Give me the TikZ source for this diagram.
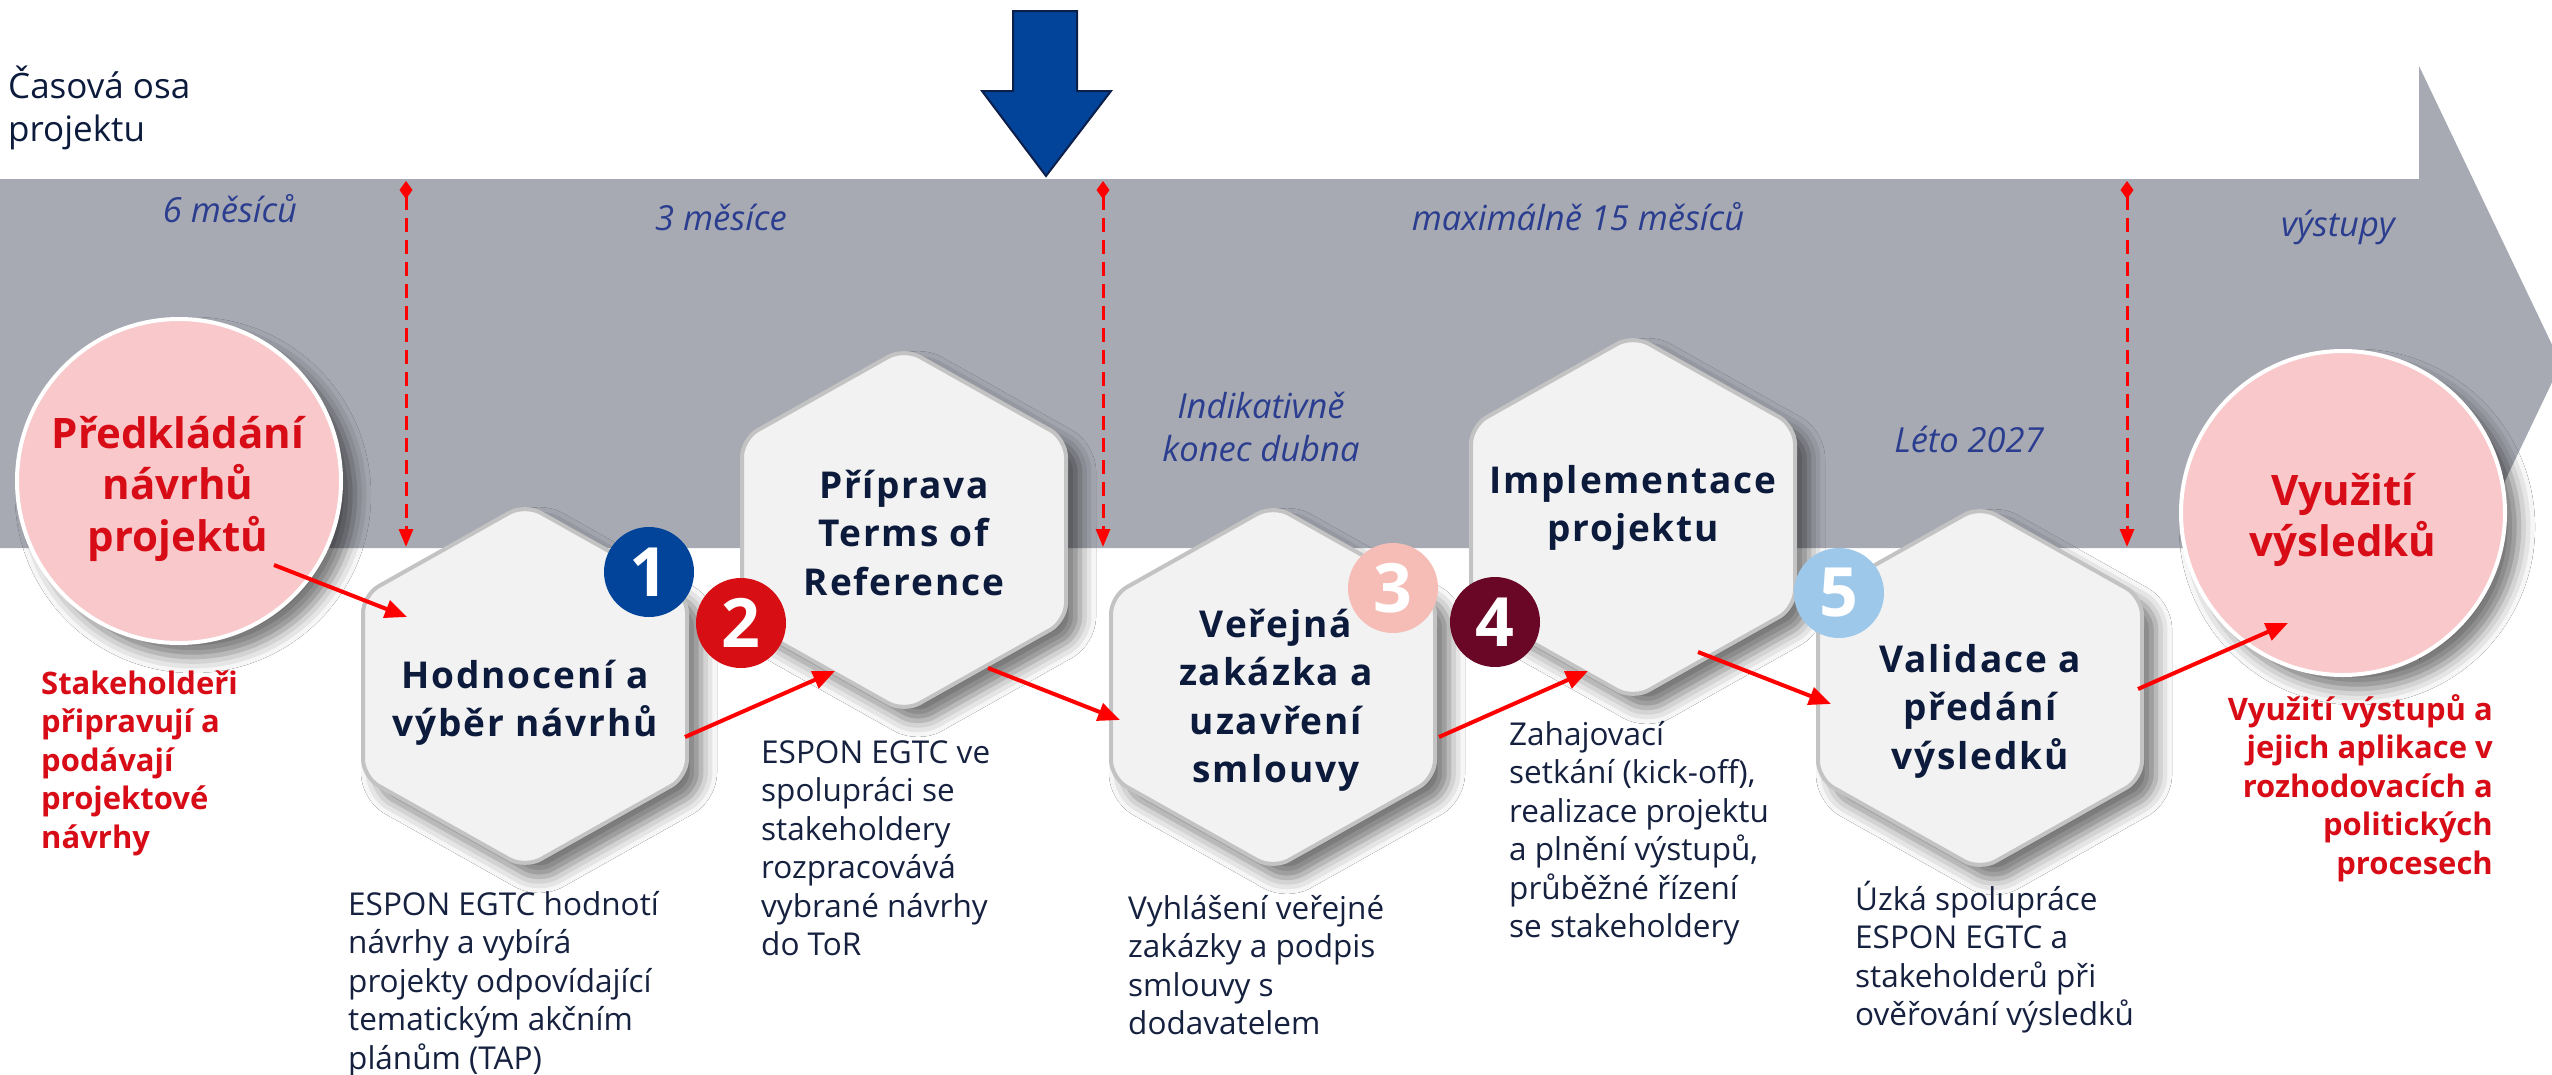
\documentclass[tikz,border=0pt]{standalone}
\usepackage{fontspec}
\setmainfont{Open Sans}
\usetikzlibrary{arrows.meta,shadows.blur}
\definecolor{bandgray}{HTML}{A7AAB3}
\definecolor{arrowblue}{HTML}{02449A}
\definecolor{arrowdark}{HTML}{0B1F4A}
\definecolor{hexfill}{HTML}{F2F2F2}
\definecolor{hexborder}{HTML}{C3C3C3}
\definecolor{navytxt}{HTML}{0C1A3C}
\definecolor{desctxt}{HTML}{16213F}
\definecolor{lblblue}{HTML}{2B3D8F}
\definecolor{redtxt}{HTML}{D70C16}
\definecolor{pinkfill}{HTML}{F9C8CA}
\definecolor{bOne}{HTML}{02449A}
\definecolor{bTwo}{HTML}{D70F15}
\definecolor{bThree}{HTML}{F5BDB6}
\definecolor{bFour}{HTML}{6A0626}
\definecolor{bFive}{HTML}{9DC8EA}
\newcommand\fsz[2]{\fontsize{#1}{#2}\selectfont}
\tikzset{
  hexa/.pic={
    \path[fill=hexfill, draw=hexborder, line width=4, rounded corners=18,
      blur shadow={shadow xshift=14pt, shadow yshift=-14pt, shadow blur radius=16pt, shadow opacity=55}]
      (0,-182) -- (162,-91) -- (162,91) -- (0,182) -- (-162,91) -- (-162,-91) -- cycle;
  },
  bigcirc/.style={circle, minimum size=324, inner sep=0, fill=pinkfill, draw=white, line width=4,
      blur shadow={shadow xshift=14pt, shadow yshift=-14pt, shadow blur radius=16pt, shadow opacity=55}},
  hextext/.style={font=\bfseries\addfontfeature{LetterSpace=5}\fsz{37}{48.5}, text=navytxt, align=center, inner sep=0, anchor=base},
  circtext/.style={font=\bfseries\fsz{42}{51.5}, text=redtxt, align=center, inner sep=0, anchor=base},
  desc/.style={font=\fsz{31.5}{38.5}, text=desctxt, align=left, inner sep=0, anchor=base west},
  redside/.style={font=\bfseries\fsz{31}{38.5}, text=redtxt, inner sep=0},
  bandlbl/.style={font=\itshape\fsz{34.5}{43}, text=lblblue, align=center, inner sep=0, anchor=base},
  badge/.style={circle, minimum size=90, inner sep=0, text=white, font=\bfseries\fsz{68}{68}},
  redarrow/.style={draw=red, line width=4, -{Triangle[length=22,width=18]}},
  dashline/.style={draw=red, line width=3, dash pattern=on 14pt off 8pt,
      {Diamond[length=18,width=13]}-{Triangle[length=18,width=14]}}
}
\begin{document}
\begin{tikzpicture}[x=1pt,y=-1pt]
\useasboundingbox (0,0) rectangle (2552,1074);
\clip (0,0) rectangle (2552,1074);
\fill[white] (0,0) rectangle (2552,1074);
% timeline band with arrow head
\fill[bandgray] (0,179) -- (2419,179) -- (2419,66) -- (2561,363.5) -- (2419,661) -- (2419,548) -- (0,548) -- cycle;
% big blue arrow
\draw[fill=arrowblue, draw=arrowdark, line width=2, line join=miter]
  (1013,11) -- (1077,11) -- (1077,91) -- (1111,91) -- (1046,176) -- (982,91) -- (1013,91) -- cycle;
% title
\node[font=\fsz{35}{43.5}, text=navytxt, align=left, inner sep=0, anchor=base west] (title) at (8,141.5) {Časová osa\\projektu};
% band labels
\node[bandlbl] (l1) at (230,222) {6 měsíců};
\node[bandlbl] (l2) at (721,230) {3 měsíce};
\node[bandlbl] (l3) at (1578,230) {maximálně 15 měsíců};
\node[bandlbl] (l4) at (2338,236) {výstupy};
\node[bandlbl] (l5) at (1261,461) {Indikativně\\konec dubna};
\node[bandlbl] (l6) at (1969,452) {Léto 2027};
% dashed markers
\coordinate (m1t) at (406,181); \coordinate (m1b) at (406,547);
\coordinate (m2t) at (1103,181); \coordinate (m2b) at (1103,547);
\coordinate (m3t) at (2127,181); \coordinate (m3b) at (2127,547);
\draw[dashline] (m1t) -- (m1b);
\draw[dashline] (m2t) -- (m2b);
\draw[dashline] (m3t) -- (m3b);
% circles
\node[bigcirc] (c1) at (179,481) {};
\node[bigcirc] (c2) at (2343,513) {};
\node[circtext] (c1t) at (178,551) {Předkládání\\návrhů\\projektů};
\node[circtext] (c2t) at (2343,556.5) {Využití\\výsledků};
% hexagons
\pic at (525,686) {hexa};
\pic at (904,530) {hexa};
\pic at (1273,687) {hexa};
\pic at (1633,517) {hexa};
\pic at (1980,688) {hexa};
\node[hextext] (h1) at (525,736.5) {Hodnocení a\\výběr návrhů};
\node[hextext] (h2) at (904,595) {Příprava\\Terms of\\Reference};
\node[hextext] (h3) at (1276,782.5) {Veřejná\\zakázka a\\uzavření\\smlouvy};
\node[hextext] (h4) at (1633,541.5) {Implementace\\projektu};
\node[hextext] (h5) at (1980,769) {Validace a\\předání\\výsledků};
% badges
\node[badge, fill=bOne] (b1) at (649,572) {1};
\node[badge, fill=bTwo] (b2) at (741,623) {2};
\node[badge, fill=bThree] (b3) at (1393,588) {3};
\node[badge, fill=bFour] (b4) at (1495,622) {4};
\node[badge, fill=bFive] (b5) at (1839,593) {5};
% side texts
\node[redside, align=left, anchor=base west] (sl) at (41,848) {Stakeholdeři\\připravují a\\podávají\\projektové\\návrhy};
\node[redside, align=right, anchor=base east] (sr) at (2493,874) {Využití výstupů a\\jejich aplikace v\\rozhodovacích a\\politických\\procesech};
% descriptions
\node[desc] (d1) at (348,1069) {ESPON EGTC hodnotí\\návrhy a vybírá\\projekty odpovídající\\tematickým akčním\\plánům (TAP)};
\node[desc] (d2) at (761,955.5) {ESPON EGTC ve\\spolupráci se\\stakeholdery\\rozpracovává\\vybrané návrhy\\do ToR};
\node[desc] (d3) at (1128,1034.5) {Vyhlášení veřejné\\zakázky a podpis\\smlouvy s\\dodavatelem};
\node[desc] (d4) at (1509,937.5) {Zahajovací\\setkání (kick-off),\\realizace projektu\\a plnění výstupů,\\průběžné řízení\\se stakeholdery};
\node[desc] (d5) at (1855,1025.5) {Úzká spolupráce\\ESPON EGTC a\\stakeholderů při\\ověřování výsledků};
% red connectors
\coordinate (a1s) at (274,565); \coordinate (a1e) at (407,617);
\coordinate (a2s) at (685,737); \coordinate (a2e) at (835,671);
\coordinate (a3s) at (988,668); \coordinate (a3e) at (1120,720);
\coordinate (a4s) at (1439,737); \coordinate (a4e) at (1588,671);
\coordinate (a5s) at (1698,652); \coordinate (a5e) at (1831,704);
\coordinate (a6s) at (2138,689); \coordinate (a6e) at (2288,623);
\draw[redarrow] (a1s) -- (a1e);
\draw[redarrow] (a2s) -- (a2e);
\draw[redarrow] (a3s) -- (a3e);
\draw[redarrow] (a4s) -- (a4e);
\draw[redarrow] (a5s) -- (a5e);
\draw[redarrow] (a6s) -- (a6e);
\end{tikzpicture}
\end{document}
